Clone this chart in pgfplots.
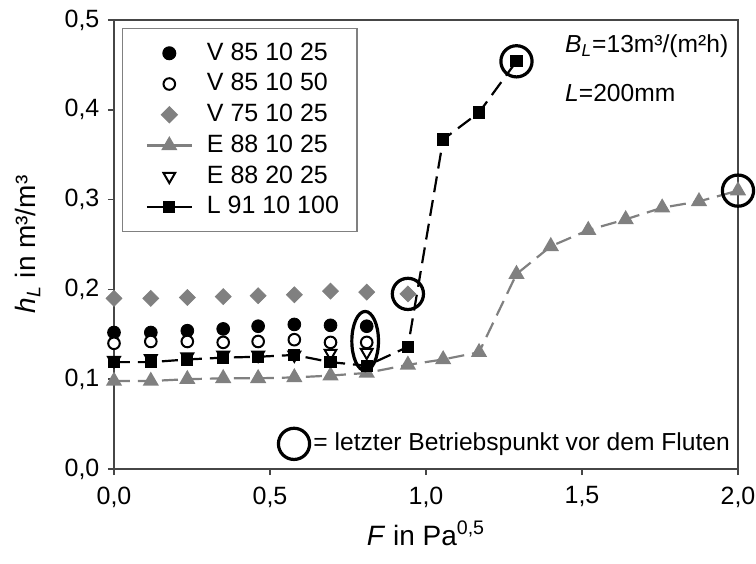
\documentclass[border=0pt]{standalone}
\usepackage{fontspec}
\setmainfont{Liberation Sans}
\usepackage{pgfplots}
\pgfplotsset{compat=1.18}
\definecolor{mgray}{RGB}{128,128,128}
\definecolor{axgray}{RGB}{70,70,70}
\begin{document}
\fontsize{12.3}{14.8}\selectfont
\begin{tikzpicture}
\useasboundingbox (-57pt,-47pt) rectangle (321pt,234.5pt);
\begin{axis}[
  scale only axis, width=312pt, height=224.5pt,
  xmin=0, xmax=2, ymin=0, ymax=0.5,
  xtick={0,0.5,1,1.5,2}, ytick={0,0.1,0.2,0.3,0.4,0.5},
  tick align=outside, xtick pos=bottom, ytick pos=left,
  major tick length=3pt,
  axis line style={axgray, line width=0.8pt},
  tick style={axgray, line width=0.8pt},
  /pgf/number format/use comma, /pgf/number format/fixed,
  /pgf/number format/fixed zerofill, /pgf/number format/precision=1,
  /pgf/number format/assume math mode=true,
  tick label style={font=\fontsize{12.5}{15}\selectfont},
  xticklabel style={yshift=-1.5pt},
  clip=false,
  every axis x label/.style={at={(axis description cs:0.5,-0.17)}, anchor=base, font=\fontsize{14}{16.8}\selectfont},
  every axis y label/.style={at={(axis description cs:-0.125,0.5)}, anchor=base, rotate=90, font=\fontsize{14}{16.8}\selectfont},
  xlabel={\textit{F} in Pa\textsuperscript{0,5}},
  ylabel={\textit{h}\textsubscript{\textit{L}} in m³/m³},
  legend image code/.code={\path (0pt,0pt); \draw[mark repeat=2,mark phase=2,solid,#1] plot coordinates {(4.5pt,0pt)(15.75pt,0pt)(27pt,0pt)};},
  legend style={at={(0.013,0.982)}, anchor=north west, draw=mgray, line width=0.6pt,
    font=\fontsize{12.5}{15}\selectfont, cells={anchor=west}, row sep=0.8pt,
    column sep=5pt, inner xsep=7pt, inner ysep=5pt},
]
\addplot[only marks, mark=*, mark size=3.2pt, mark options={black}] coordinates {
(0,0.152)(0.118,0.152)(0.235,0.154)(0.350,0.156)(0.462,0.159)(0.578,0.161)(0.694,0.160)(0.81,0.159)};
\addlegendentry{V 85 10 25}
\addplot[only marks, mark=*, mark size=2.9pt, mark options={fill=white, draw=black, line width=1pt}] coordinates {
(0,0.140)(0.118,0.142)(0.235,0.142)(0.350,0.141)(0.462,0.142)(0.578,0.144)(0.694,0.141)(0.81,0.141)};
\addlegendentry{V 85 10 50}
\addplot[only marks, mark=square*, mark size=2.8pt, mark options={rotate=45, fill=mgray, draw=mgray}] coordinates {
(0,0.190)(0.118,0.190)(0.235,0.191)(0.350,0.192)(0.462,0.193)(0.578,0.194)(0.694,0.198)(0.81,0.197)(0.942,0.195)};
\addlegendentry{V 75 10 25}
\addplot[mgray, line width=1.1pt, dash pattern=on 8pt off 4pt, mark=triangle*, mark size=3.6pt, mark options={solid, fill=mgray, draw=mgray}] coordinates {
(0,0.098)(0.118,0.098)(0.235,0.100)(0.350,0.101)(0.462,0.101)(0.578,0.102)(0.694,0.104)(0.81,0.107)(0.942,0.116)(1.055,0.122)(1.17,0.130)(1.29,0.217)(1.40,0.248)(1.52,0.266)(1.64,0.278)(1.757,0.291)(1.875,0.298)(2.0,0.310)};
\addlegendentry{E 88 10 25}
\addplot[only marks, mark=triangle*, mark size=3.4pt, mark options={rotate=180, fill=white, draw=black, line width=1pt}] coordinates {
(0,0.121)(0.118,0.123)(0.235,0.125)(0.350,0.127)(0.462,0.127)(0.578,0.127)(0.694,0.129)(0.81,0.130)};
\addlegendentry{E 88 20 25}
\addplot[black, line width=1.1pt, dash pattern=on 8pt off 4pt, mark=square*, mark size=2.5pt, mark options={solid, fill=black}] coordinates {
(0,0.119)(0.118,0.119)(0.235,0.122)(0.350,0.124)(0.462,0.125)(0.578,0.127)(0.694,0.119)(0.81,0.115)(0.942,0.136)(1.055,0.367)(1.17,0.397)(1.29,0.454)};
\addlegendentry{L 91 10 100}
\addplot[only marks, mark=o, mark size=7.8pt, mark options={line width=1.6pt, black}, forget plot] coordinates {
(0.942,0.195)(1.29,0.454)(2.0,0.31)(0.577,0.028)};
\addplot[only marks, mark=o, mark size=14.8pt, mark options={xscale=0.45, line width=1.6pt, black}, forget plot] coordinates {
(0.805,0.1425)};
\node[anchor=west, inner sep=0pt] at (axis cs:1.445,0.471) {\textit{B}\textsubscript{\textit{L}}=13m³/(m²h)};
\node[anchor=west, inner sep=0pt] at (axis cs:1.445,0.419) {\textit{L}=200mm};
\node[anchor=west, inner sep=0pt] at (axis cs:0.638,0.028) {= letzter Betriebspunkt vor dem Fluten};
\end{axis}
\end{tikzpicture}
\end{document}
